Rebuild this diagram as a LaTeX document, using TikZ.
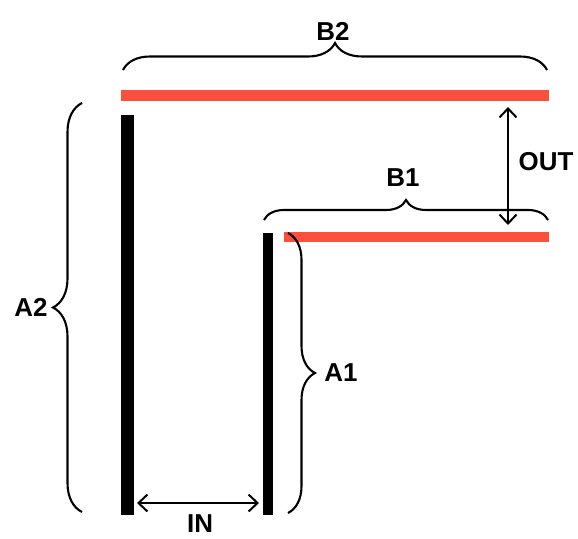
\documentclass[tikz,border=0pt]{standalone}
\usepackage{fontspec}
\setmainfont{Liberation Sans}
\usetikzlibrary{arrows.meta,decorations.pathreplacing}
\definecolor{barred}{RGB}{250,80,60}
\tikzset{
	brc/.style={decorate,decoration={brace,amplitude=#1},line width=2.1bp},
	dbl/.style={{Straight Barb[length=9bp,width=17bp]}-{Straight Barb[length=9bp,width=17bp]},line width=2bp}
}
\begin{document}
\begin{tikzpicture}[x=1bp,y=-1bp,font=\fontsize{26}{30}\selectfont\bfseries]
	\useasboundingbox (0,0) rectangle (578,539);
	\path (121,96) coordinate (R2a) (549,96) coordinate (R2b)
	(284,237) coordinate (R1a) (549,237) coordinate (R1b)
	(127,115) coordinate (L2a) (127,515) coordinate (L2b)
	(268,233) coordinate (L1a) (268,515) coordinate (L1b);
	\draw[barred,line width=11bp] (R2a)--(R2b);
	\draw[barred,line width=10bp] (R1a)--(R1b);
	\draw[line width=13bp] (L2a)--(L2b);
	\draw[line width=10bp] (L1a)--(L1b);
	% braces
	\path (123,70) coordinate (b2a) (547,70) coordinate (b2b)
	(264,220) coordinate (b1a) (548,220) coordinate (b1b)
	(82,512) coordinate (a2a) (82,103) coordinate (a2b)
	(288,233) coordinate (a1a) (288,513) coordinate (a1b);
	\draw[brc=27bp] (b2a)--(b2b);
	\draw[brc=20bp] (b1a)--(b1b);
	\draw[brc=29bp] (a2a)--(a2b);
	\draw[brc=27bp] (a1a)--(a1b);
	% arrows
	\path (508,107) coordinate (o1) (508,225) coordinate (o2)
	(137,503) coordinate (i1) (259,503) coordinate (i2);
	\draw[dbl] (o1)--(o2);
	\draw[dbl] (i1)--(i2);
	\foreach \n/\p/\t in {B2/{(333,31)}/B2,B1/{(403,178)}/B1,A2/{(31,307)}/A2,
		A1/{(341,373)}/A1,IN/{(200,524)}/IN,OUT/{(546,162)}/OUT}{
		\node (\n) at \p {\t};
	}
\end{tikzpicture}
\end{document}
